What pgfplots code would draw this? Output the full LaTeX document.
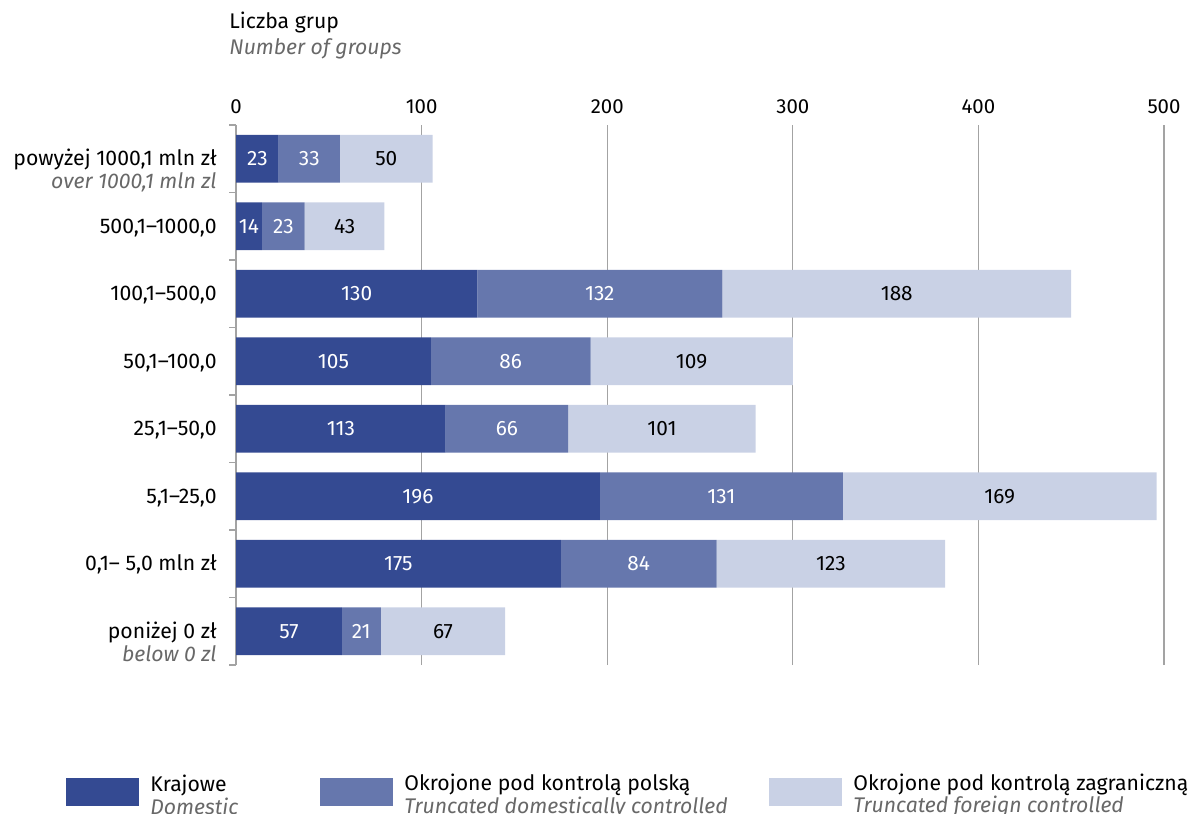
\documentclass[border=0pt]{standalone}
\usepackage{fontspec}
\setmainfont{Fira Sans}
\usepackage{pgfplots}
\pgfplotsset{compat=1.18}

\definecolor{dom}{HTML}{344A92}
\definecolor{trpl}{HTML}{6677AD}
\definecolor{trfor}{HTML}{C9D1E5}
\definecolor{engl}{HTML}{686868}
\definecolor{gridc}{HTML}{A3A3A3}

\newcommand{\en}[1]{{\color{engl}\itshape #1}}

\begin{document}
\begin{tikzpicture}[font=\fontsize{10.6}{11.3}\selectfont]
% 1 px of the reference = 0.5pt
\path[use as bounding box] (0,0) rectangle (598.5pt,-406.5pt);

\node[anchor=base west, inner sep=0pt] at (114.5pt,-14.5pt) {Liczba grup};
\node[anchor=base west, inner sep=0pt] at (114.5pt,-27.5pt) {\en{Number of groups}};

\begin{axis}[
    at={(118pt,-332.5pt)}, anchor=south west,
    scale only axis,
    width=464pt, height=270pt,
    xbar stacked,
    bar width=0.71,
    xmin=0, xmax=500,
    ymin=-0.5, ymax=7.5,
    axis x line*=top,
    axis y line*=left,
    x axis line style={draw=none},
    y axis line style={draw=gridc, line width=0.65pt},
    xtick={0,100,...,500},
    xmajorgrids,
    major grid style={draw=gridc, line width=0.65pt},
    xtick style={draw=none},
    xticklabel style={yshift=2pt, font=\fontsize{10.2}{11}\selectfont},
    ytick={0,...,7},
    minor ytick={-0.5,0.5,...,7.5},
    major tick length=0pt,
    minor tick length=3.5pt,
    tick align=outside,
    ytick style={draw=gridc, line width=0.65pt},
    minor tick style={draw=gridc, line width=0.65pt},
    yticklabels={
        {\begin{tabular}[t]{@{}r@{}}poniżej 0 zł\\\en{below 0 zl}\end{tabular}},
        {0,1-- 5,0 mln zł},
        {5,1--25,0},
        {25,1--50,0},
        {50,1--100,0},
        {100,1--500,0},
        {500,1--1000,0},
        {\begin{tabular}[t]{@{}r@{}}powyżej 1000,1 mln zł\\\en{over 1000,1 mln zl}\end{tabular}}
    },
    yticklabel style={anchor=base east, inner sep=0pt, xshift=-9.5pt, yshift=-3.6pt},
    /pgf/number format/assume math mode=true,
    nodes near coords,
    every node near coord/.append style={anchor=center,
        font=\fontsize{10.4}{11}\selectfont},
    legend columns=3,
    legend style={at={(axis description cs:-0.1832,-0.2352)}, anchor=west,
        draw=none, fill=none, inner sep=0pt,
        nodes={inner sep=0pt, anchor=west},
        /tikz/every even column/.style={column sep=0pt},
        /tikz/column 1/.style={column sep=5.5pt},
        /tikz/column 3/.style={column sep=5.5pt},
        /tikz/column 5/.style={column sep=5.5pt}},
    legend cell align=left,
    legend image code/.code={\path[#1, draw=none] (0pt,-7pt) rectangle (36.5pt,7pt);},
]
\addplot[fill=dom, draw=none, nodes near coords style={text=white}] coordinates {
    (57,0) (175,1) (196,2) (113,3) (105,4) (130,5) (14,6) (23,7)};
\addplot[fill=trpl, draw=none, nodes near coords style={text=white}] coordinates {
    (21,0) (84,1) (131,2) (66,3) (86,4) (132,5) (23,6) (33,7)};
\addplot[fill=trfor, draw=none, nodes near coords style={text=black}] coordinates {
    (67,0) (123,1) (169,2) (101,3) (109,4) (188,5) (43,6) (50,7)};
\legend{
    {\raisebox{3pt}{\parbox[c]{85pt}{Krajowe\\\en{Domestic}}}},
    {\raisebox{3pt}{\parbox[c]{182.5pt}{Okrojone pod kontrolą polską\\\en{Truncated domestically controlled}}}},
    {\raisebox{3pt}{\parbox[c]{180pt}{Okrojone pod kontrolą zagraniczną\\\en{Truncated foreign controlled}}}}
}
\end{axis}
\end{tikzpicture}
\end{document}
